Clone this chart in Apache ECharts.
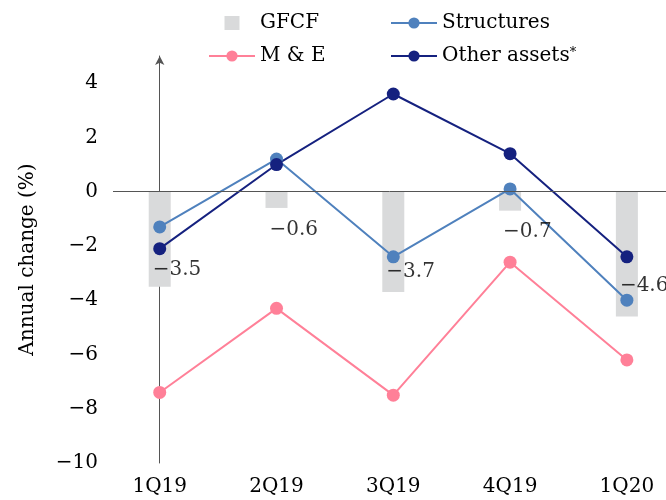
<!DOCTYPE html>
<html>
<head>
<meta charset="utf-8">
<script src="https://cdn.jsdelivr.net/npm/echarts@6/dist/echarts.min.js"></script>
<style>html,body{margin:0;padding:0;background:#fff}#c{width:666px;height:500px}</style>
</head>
<body>
<div id="c"></div>
<script>
const categories = ['1Q19', '2Q19', '3Q19', '4Q19', '1Q20'];
const gfcf = [-3.5, -0.6, -3.7, -0.7, -4.6];
const structures = [-1.3, 1.2, -2.4, 0.1, -4.0];
const machineryEquipment = [-7.4, -4.3, -7.5, -2.6, -6.2];
const otherAssets = [-2.1, 1.0, 3.6, 1.4, -2.4];
const yTicks = [-10, -8, -6, -4, -2, 0, 2, 4];

// label placement (style, not data): vertical shift of each GFCF value label in px
const gfcfLabelDy = [-17, 22, -20, 21, -31];

const FONT = 'DejaVu Serif';
const fmt = v => (v < 0 ? '\u2212' + Math.abs(v) : String(v));
const pts = arr => arr.map((v, i) => [i, v]);

const chart = echarts.init(document.getElementById('c'), null, {renderer: 'canvas'});
const lineSeries = (name, arr, color) => ({
  name, type: 'line', data: pts(arr),
  symbol: 'circle', symbolSize: 13, showSymbol: true,
  lineStyle: {color, width: 2}, itemStyle: {color},
  emphasis: {disabled: true}, silent: true
});

const legendText = {
  fontFamily: FONT, fontSize: 20, color: '#000', lineHeight: 20,
  rich: {
    sup: {fontFamily: FONT, fontSize: 13, color: '#000', verticalAlign: 'top', lineHeight: 20, padding: [0, 0, 6, 0]}
  }
};
const legendFormatter = n => (n.endsWith('*') ? n.slice(0, -1) + '{sup|*}' : n);

chart.setOption({
  animation: false,
  textStyle: {fontFamily: FONT},
  grid: {left: 113, right: 0, top: 56, bottom: 37, containLabel: false},
  legend: [
    {
      data: [{name: 'GFCF', icon: 'path://M0,0H15V14H0Z'}, 'M & E'],
      orient: 'vertical', left: 203, top: 8, itemWidth: 46, itemHeight: 14, itemGap: 13,
      textStyle: legendText, formatter: legendFormatter,
      selectedMode: false
    },
    {
      data: ['Structures', 'Other assets*'],
      orient: 'vertical', left: 385, top: 8, itemWidth: 46, itemHeight: 14, itemGap: 13,
      textStyle: legendText, formatter: legendFormatter,
      selectedMode: false
    }
  ],
  xAxis: {
    type: 'value', min: -0.4, max: 4.335,
    axisLine: {show: false}, axisTick: {show: false}, splitLine: {show: false},
    axisLabel: {
      customValues: [0, 1, 2, 3, 4],
      formatter: v => categories[Math.round(v)],
      fontFamily: FONT, fontSize: 20, color: '#000', margin: 14
    }
  },
  yAxis: {
    type: 'value', min: -10, max: 5,
    name: 'Annual change (%)', nameLocation: 'middle', nameGap: 75,
    nameTextStyle: {fontFamily: FONT, fontSize: 20, color: '#000'},
    axisLine: {show: true, lineStyle: {color: '#555', width: 1}, symbol: ['none', 'arrow'], symbolSize: [7, 9]},
    axisTick: {show: false}, splitLine: {show: false},
    axisLabel: {
      customValues: yTicks,
      formatter: v => fmt(v),
      fontFamily: FONT, fontSize: 20, color: '#000', margin: 15
    }
  },
  series: [
    {
      name: 'GFCF', type: 'bar', data: pts(gfcf), barWidth: 22,
      itemStyle: {color: '#d9dadb'}, silent: true, emphasis: {disabled: true},
      markLine: {
        silent: true, symbol: ['none', 'none'], label: {show: false},
        lineStyle: {color: '#555', width: 1, type: 'solid'},
        data: [{yAxis: 0}]
      }
    },
    lineSeries('Structures', structures, '#4f81bd'),
    lineSeries('M & E', machineryEquipment, '#ff8098'),
    lineSeries('Other assets*', otherAssets, '#15217f'),
    {
      name: 'gfcfLabels', type: 'scatter', symbolSize: 1, silent: true,
      itemStyle: {color: 'rgba(0,0,0,0)'},
      data: gfcf.map((v, i) => ({
        value: [i, v],
        label: {offset: [-7, gfcfLabelDy[i]]}
      })),
      label: {
        show: true, position: 'inside', align: 'left', verticalAlign: 'middle',
        fontFamily: FONT, fontSize: 20, color: '#000',
        formatter: p => fmt(p.value[1])
      },
      z: 5
    }
  ]
});
</script>
</body>
</html>
